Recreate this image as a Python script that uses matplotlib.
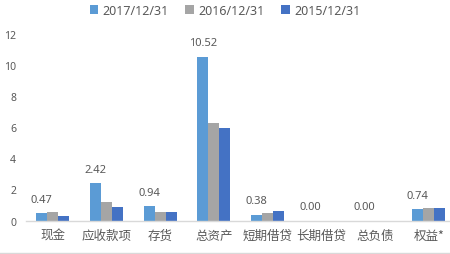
import matplotlib
matplotlib.use('Agg')
import numpy as np
import matplotlib.pyplot as plt
from matplotlib.lines import Line2D

plt.rcParams['font.family'] = ['Noto Sans CJK SC', 'DejaVu Sans']

# 数据
categories = ['现金', '应收款项', '存货', '总资产', '短期借贷', '长期借贷', '总负债', '权益*']
series_names = ['2017/12/31', '2016/12/31', '2015/12/31']
v2017 = [0.47, 2.42, 0.94, 10.52, 0.38, 0.00, 0.00, 0.74]
v2016 = [0.58, 1.23, 0.58, 6.24, 0.52, 0.00, 0.00, 0.84]
v2015 = [0.27, 0.88, 0.58, 5.94, 0.63, 0.00, 0.00, 0.84]
colors = ['#5B9BD5', '#A5A5A5', '#4472C4']
txt = '#595959'

fig = plt.figure(figsize=(4.5, 2.55), dpi=100)
ax = fig.add_axes([26 / 450, 33.3 / 255, 424 / 450, 187.2 / 255])

x = np.arange(len(categories))
w = 0.205
for i, (vals, name) in enumerate(zip([v2017, v2016, v2015], series_names)):
    ax.bar(x + (i - 1) * w, vals, w, color=colors[i], label=name, linewidth=0)

# 数据标签(只有2017)
for xi, v in zip(x, v2017):
    ax.annotate('%.2f' % v, (xi - w, v), xytext=(0, 10), textcoords='offset points',
                ha='center', va='center', fontsize=8, color=txt,
                family=['Noto Sans', 'DejaVu Sans'])

ax.set_xlim(-0.5, 7.395)
ax.set_ylim(0, 12)
ax.set_yticks(range(0, 13, 2))
ax.set_xticks(x)
ax.set_xticklabels(categories, fontsize=9, color=txt)
for lab in ax.get_yticklabels():
    lab.set_fontsize(7.5)
    lab.set_color(txt)
    lab.set_family(['Noto Sans', 'DejaVu Sans'])
ax.tick_params(axis='both', length=0)
ax.tick_params(axis='y', pad=7)
ax.tick_params(axis='x', pad=6)
for s in ['top', 'right', 'left']:
    ax.spines[s].set_visible(False)
ax.spines['bottom'].set_color('#D9D9D9')
ax.spines['bottom'].set_linewidth(1)

fig.legend(loc='upper center', bbox_to_anchor=(0.5, 1.025), ncol=3, frameon=False,
           handlelength=0.7, handleheight=0.7, handletextpad=0.35,
           columnspacing=1.3, labelcolor=txt,
           prop={'family': ['Noto Sans', 'DejaVu Sans'], 'size': 9})

fig.add_artist(Line2D([0, 1], [1.5 / 255, 1.5 / 255], color='#D9D9D9', lw=1))

fig.savefig('out.png', dpi=100)
